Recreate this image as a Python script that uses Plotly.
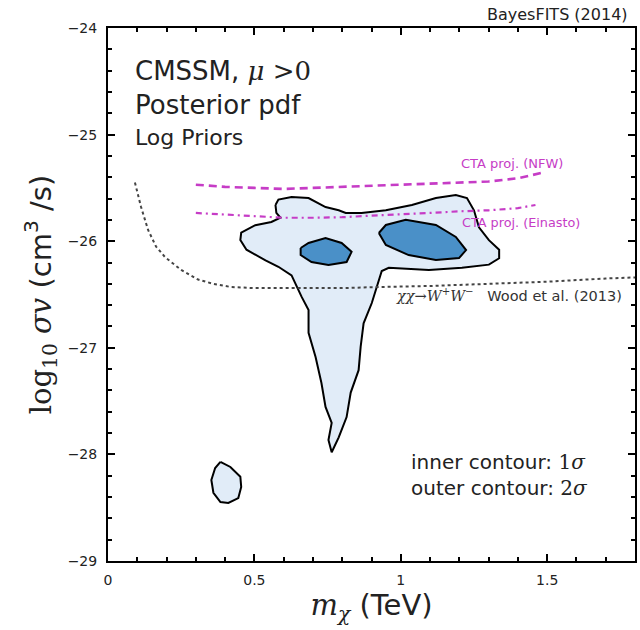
import plotly.graph_objects as go

# ---- 2-sigma (outer) credible region: main body and small island ----
outer_main_x = [0.572, 0.582, 0.627, 0.685, 0.743, 0.788, 0.812, 0.866, 0.949, 1.038,
                1.120, 1.188, 1.226, 1.250, 1.267, 1.301, 1.336, 1.336, 1.301, 1.209,
                1.096, 0.959, 0.935, 0.918, 0.901, 0.873, 0.863, 0.856, 0.829, 0.815,
                0.788, 0.764, 0.753, 0.764, 0.743, 0.729, 0.709, 0.685, 0.685, 0.661,
                0.634, 0.627, 0.582, 0.538, 0.473, 0.452, 0.455, 0.503, 0.558, 0.589,
                0.575, 0.572]
outer_main_y = [-25.66, -25.61, -25.585, -25.595, -25.68, -25.71, -25.735, -25.735, -25.71, -25.66,
                -25.595, -25.567, -25.595, -25.71, -25.87, -25.99, -26.08, -26.16, -26.22, -26.25,
                -26.27, -26.25, -26.28, -26.43, -26.58, -26.77, -26.99, -27.21, -27.42, -27.65,
                -27.84, -27.98, -27.865, -27.705, -27.555, -27.33, -27.086, -26.86, -26.645, -26.52,
                -26.36, -26.32, -26.24, -26.18, -26.08, -25.99, -25.92, -25.85, -25.82, -25.78,
                -25.735, -25.66]

outer_island_x = [0.384, 0.418, 0.452, 0.455, 0.445, 0.411, 0.384, 0.360, 0.353, 0.366, 0.384]
outer_island_y = [-28.07, -28.118, -28.21, -28.306, -28.41, -28.456, -28.447, -28.36, -28.24, -28.128, -28.07]

# ---- 1-sigma (inner) credible regions ----
inner_left_x = [0.658, 0.685, 0.743, 0.798, 0.832, 0.815, 0.753, 0.695, 0.658, 0.658]
inner_left_y = [-26.064, -26.017, -25.97, -26.017, -26.10, -26.195, -26.223, -26.195, -26.13, -26.064]

inner_right_x = [0.925, 0.949, 1.017, 1.120, 1.188, 1.223, 1.199, 1.120, 1.027, 0.949, 0.925]
inner_right_y = [-25.923, -25.848, -25.80, -25.848, -25.96, -26.083, -26.158, -26.176, -26.13, -26.036, -25.923]

# ---- CTA projected sensitivities ----
cta_nfw_x = [0.30, 0.40, 0.50, 0.60, 0.70, 0.80, 0.90, 1.00, 1.10, 1.20, 1.30, 1.40, 1.48]
cta_nfw_y = [-25.47, -25.49, -25.50, -25.51, -25.50, -25.49, -25.48, -25.47, -25.46, -25.45, -25.44, -25.41, -25.36]

cta_ein_x = [0.30, 0.40, 0.50, 0.60, 0.70, 0.80, 0.90, 1.00, 1.10, 1.20, 1.30, 1.40, 1.46]
cta_ein_y = [-25.735, -25.75, -25.77, -25.78, -25.78, -25.775, -25.76, -25.75, -25.735, -25.72, -25.71, -25.69, -25.66]

# ---- Fermi-LAT dwarf limit, chi chi -> W+ W- (Wood et al. 2013) ----
wood_x = [0.092, 0.113, 0.137, 0.164, 0.195, 0.25, 0.308, 0.36, 0.42, 0.50, 0.65, 0.80, 0.92,
          1.10, 1.30, 1.50, 1.70, 1.80]
wood_y = [-25.45, -25.68, -25.895, -26.05, -26.15, -26.27, -26.36, -26.40, -26.43, -26.44, -26.44,
          -26.44, -26.43, -26.42, -26.40, -26.38, -26.35, -26.34]

x_ticks = [0, 0.5, 1, 1.5]
x_ticklabels = ["0", "0.5", "1", "1.5"]
y_ticks = [-24, -25, -26, -27, -28, -29]
y_ticklabels = ["\u221224", "\u221225", "\u221226", "\u221227", "\u221228", "\u221229"]

OUTER_FILL = "#e1ecf8"
INNER_FILL = "#4a90c8"
MAGENTA = "#c63cc6"
SERIF = "DejaVu Serif"
SANS = "DejaVu Sans"
TEXT = "#222222"

fig = go.Figure()

fig.add_trace(go.Scatter(
    x=outer_main_x + [None] + outer_island_x,
    y=outer_main_y + [None] + outer_island_y,
    mode="lines", fill="toself", fillcolor=OUTER_FILL,
    line=dict(color="black", width=2), hoverinfo="skip", showlegend=False))

fig.add_trace(go.Scatter(
    x=inner_left_x + [None] + inner_right_x,
    y=inner_left_y + [None] + inner_right_y,
    mode="lines", fill="toself", fillcolor=INNER_FILL,
    line=dict(color="black", width=2), hoverinfo="skip", showlegend=False))

fig.add_trace(go.Scatter(
    x=wood_x, y=wood_y, mode="lines",
    line=dict(color="#444444", width=2, dash="dot"), showlegend=False))

fig.add_trace(go.Scatter(
    x=cta_nfw_x, y=cta_nfw_y, mode="lines",
    line=dict(color=MAGENTA, width=2.6, dash="8px,5px"), showlegend=False))

fig.add_trace(go.Scatter(
    x=cta_ein_x, y=cta_ein_y, mode="lines",
    line=dict(color=MAGENTA, width=2.2, dash="6px,4px,2px,4px"), showlegend=False))

annotations = [
    dict(text="BayesFITS (2014)", xref="paper", yref="paper", x=0.9905, y=1.026,
         xanchor="right", yanchor="middle", font=dict(size=16, color=TEXT)),
    dict(text="CMSSM, <span style='font-family:DejaVu Serif'><i>μ</i> >0</span><br>Posterior pdf",
         x=0.0856, y=-24.56, xanchor="left", yanchor="middle", align="left",
         font=dict(size=26, color=TEXT)),
    dict(text="Log Priors", x=0.0856, y=-25.03, xanchor="left", yanchor="middle",
         font=dict(size=22, color=TEXT)),
    dict(text="CTA proj. (NFW)", x=1.38, y=-25.27, xanchor="center", yanchor="middle",
         font=dict(size=13, color=MAGENTA)),
    dict(text="CTA proj. (Einasto)", x=1.41, y=-25.82, xanchor="center", yanchor="middle",
         font=dict(size=12.8, color=MAGENTA)),
    dict(text="<span style='font-family:DejaVu Serif'><i>χχ</i>→<i>W</i><sup>+</sup><i>W</i><sup>−</sup></span>"
              "   Wood et al. (2013)",
         x=1.764, y=-26.50, xanchor="right", yanchor="middle",
         font=dict(size=14.5, color="#333333")),
    dict(text="inner contour: <span style='font-family:DejaVu Serif'>1<i>σ</i></span><br>"
              "outer contour: <span style='font-family:DejaVu Serif'>2<i>σ</i></span>",
         x=1.027, y=-28.195, xanchor="left", yanchor="middle", align="left",
         font=dict(size=20, color=TEXT)),
]
for a in annotations:
    a.setdefault("xref", "x")
    a.setdefault("yref", "y")
    a["showarrow"] = False

axis_common = dict(
    showline=True, linecolor="black", linewidth=2, mirror="allticks",
    ticks="inside", ticklen=7, tickwidth=1.5, tickcolor="black",
    showgrid=False, zeroline=False,
    tickfont=dict(family=SANS, size=14, color=TEXT),
)

fig.update_layout(
    width=640, height=630,
    margin=dict(l=108, r=3, t=28, b=69),
    paper_bgcolor="white", plot_bgcolor="white",
    font=dict(family=SANS),
    annotations=annotations,
    xaxis=dict(
        range=[0, 1.8], tickvals=x_ticks, ticktext=x_ticklabels,
        minor=dict(dtick=0.1, ticks="inside", ticklen=4, tickcolor="black"),
        ticklabelstandoff=5,
        title=dict(
            text="<span style='font-family:DejaVu Serif'><i>m</i><sub><i>χ</i></sub></span> (TeV)",
            font=dict(size=29, color=TEXT), standoff=4),
        **axis_common),
    yaxis=dict(
        range=[-29, -24], tickvals=y_ticks, ticktext=y_ticklabels,
        minor=dict(dtick=0.2, ticks="inside", ticklen=4, tickcolor="black"),
        ticklabelstandoff=6,
        title=dict(
            text="<span style='font-family:DejaVu Serif'>log<sub>10</sub> <i>σv</i></span> (cm<sup>3</sup> /s)",
            font=dict(size=29, color=TEXT), standoff=8),
        **axis_common),
)

fig.write_html("out.html")
